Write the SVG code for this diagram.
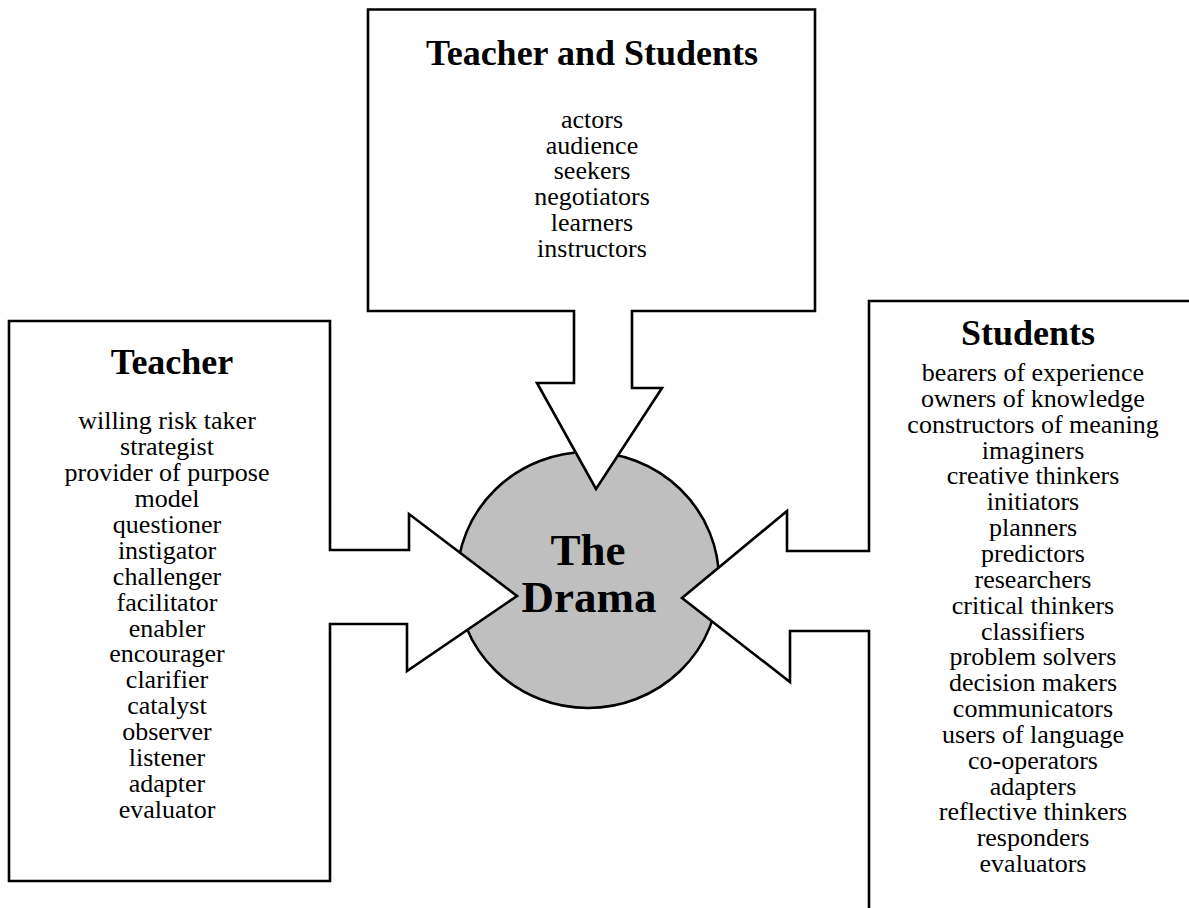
<svg xmlns="http://www.w3.org/2000/svg" width="1189" height="908" viewBox="0 0 1189 908">
<style>
.shape{fill:#ffffff;stroke:#000000;stroke-width:2.6;stroke-linejoin:miter}
.hub{fill:#bfbfbf;stroke:#000000;stroke-width:2.6}
.title{font-family:"Liberation Serif","Times New Roman",serif;font-weight:bold;font-size:36px;text-anchor:middle;fill:#000}
.hubtext{font-family:"Liberation Serif","Times New Roman",serif;font-weight:bold;font-size:45px;text-anchor:middle;fill:#000}
.item{font-family:"Liberation Serif","Times New Roman",serif;font-size:26px;text-anchor:middle;fill:#000}
</style>
<rect x="0" y="0" width="1189" height="908" fill="#ffffff"/>
<g id="drama">
<ellipse class="hub" cx="588" cy="580" rx="131" ry="128"/>
</g>
<g id="connectors">
<polygon id="top-box-arrow" class="shape" points="368,9.5 815,9.5 815,311 632,311 632,388 662,388 596,489 537,383 574,383 574,311 368,311"/>
<polygon id="left-box-arrow" class="shape" points="9,321 330,321 330,550 409,550 409,514 517,596 407,671 407,624 330,624 330,881 9,881"/>
<polygon id="right-box-arrow" class="shape" points="869,301 1200,301 1200,920 869,920 869,631 790,631 790,682 682,598 787,511 787,551 869,551"/>
</g>
<g id="teacher-and-students">
<text class="title" x="592" y="65">Teacher and Students</text>
<text class="item" x="592" y="127.7">actors</text>
<text class="item" x="592" y="153.5">audience</text>
<text class="item" x="592" y="179.3">seekers</text>
<text class="item" x="592" y="205.1">negotiators</text>
<text class="item" x="592" y="230.9">learners</text>
<text class="item" x="592" y="256.7">instructors</text>
</g>
<g id="teacher">
<text class="title" x="172" y="374">Teacher</text>
<text class="item" x="167" y="429.3">willing risk taker</text>
<text class="item" x="167" y="455.2">strategist</text>
<text class="item" x="167" y="481.1">provider of purpose</text>
<text class="item" x="167" y="507">model</text>
<text class="item" x="167" y="532.9">questioner</text>
<text class="item" x="167" y="558.8">instigator</text>
<text class="item" x="167" y="584.7">challenger</text>
<text class="item" x="167" y="610.6">facilitator</text>
<text class="item" x="167" y="636.5">enabler</text>
<text class="item" x="167" y="662.4">encourager</text>
<text class="item" x="167" y="688.3">clarifier</text>
<text class="item" x="167" y="714.2">catalyst</text>
<text class="item" x="167" y="740.1">observer</text>
<text class="item" x="167" y="766">listener</text>
<text class="item" x="167" y="791.9">adapter</text>
<text class="item" x="167" y="817.8">evaluator</text>
</g>
<g id="students">
<text class="title" x="1028" y="345">Students</text>
<text class="item" x="1033" y="381">bearers of experience</text>
<text class="item" x="1033" y="406.85">owners of knowledge</text>
<text class="item" x="1033" y="432.7">constructors of meaning</text>
<text class="item" x="1033" y="458.55">imaginers</text>
<text class="item" x="1033" y="484.4">creative thinkers</text>
<text class="item" x="1033" y="510.25">initiators</text>
<text class="item" x="1033" y="536.1">planners</text>
<text class="item" x="1033" y="561.95">predictors</text>
<text class="item" x="1033" y="587.8">researchers</text>
<text class="item" x="1033" y="613.65">critical thinkers</text>
<text class="item" x="1033" y="639.5">classifiers</text>
<text class="item" x="1033" y="665.35">problem solvers</text>
<text class="item" x="1033" y="691.2">decision makers</text>
<text class="item" x="1033" y="717.05">communicators</text>
<text class="item" x="1033" y="742.9">users of language</text>
<text class="item" x="1033" y="768.75">co-operators</text>
<text class="item" x="1033" y="794.6">adapters</text>
<text class="item" x="1033" y="820.45">reflective thinkers</text>
<text class="item" x="1033" y="846.3">responders</text>
<text class="item" x="1033" y="872.15">evaluators</text>
</g>
<g id="drama-label">
<text class="hubtext" x="588" y="565">The</text>
<text class="hubtext" x="589" y="612">Drama</text>
</g>
</svg>
